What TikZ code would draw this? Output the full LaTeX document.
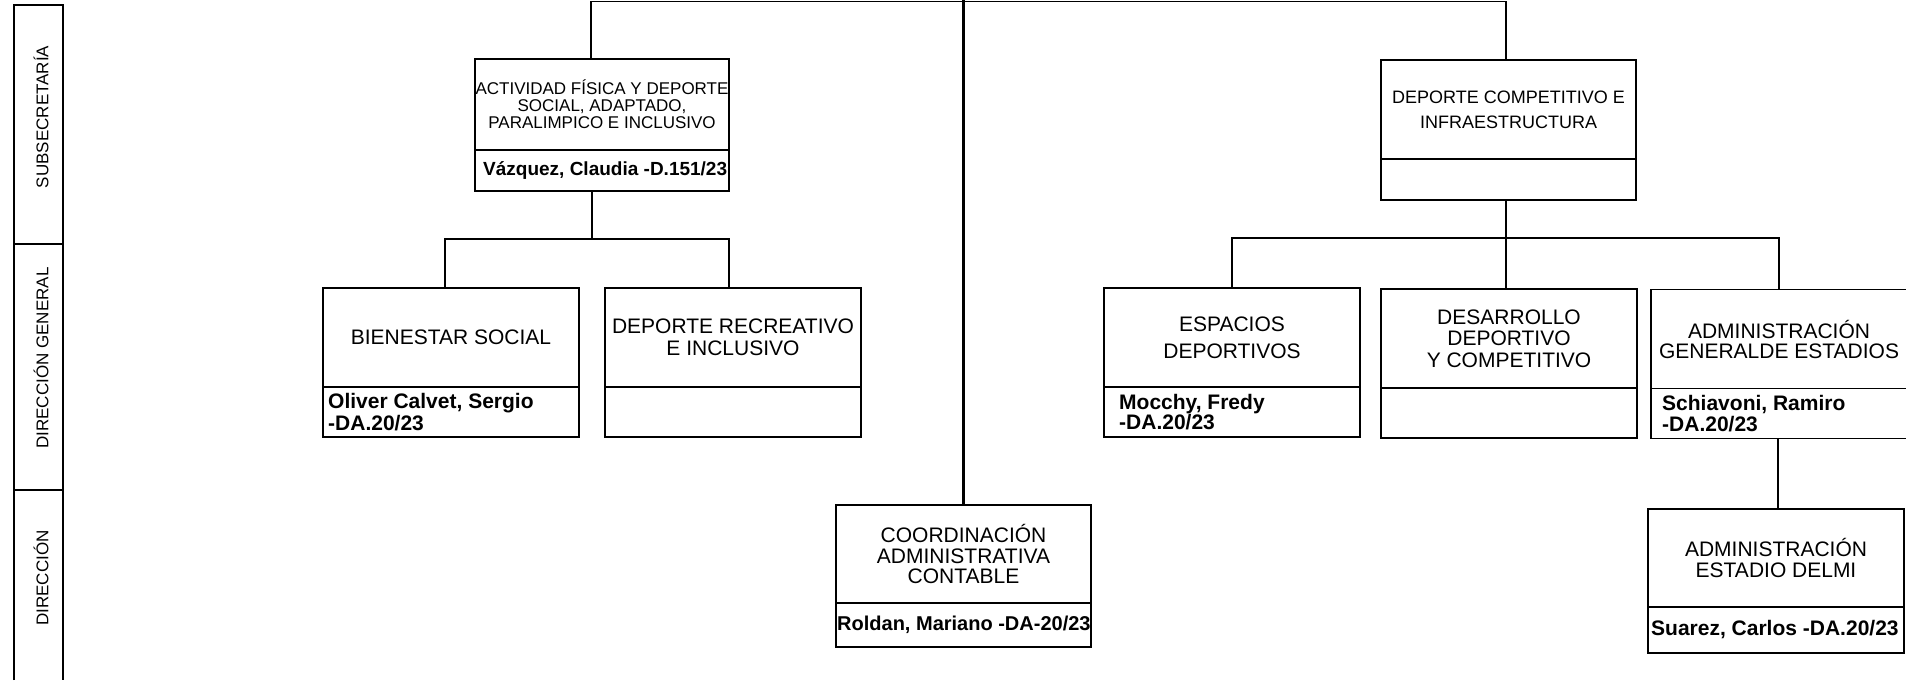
\documentclass[tikz,border=0pt]{standalone}
\usepackage{fontspec}
\setmainfont{Liberation Sans}
\usetikzlibrary{positioning}

\begin{document}
\begin{tikzpicture}[x=1pt, y=-1pt,
        unidad/.style={draw, line width=1.3pt, outer sep=0pt, inner sep=0pt,
                       minimum width=256pt, minimum height=99pt, align=center,
                       font=\fontsize{21}{21.5}\selectfont},
        titular/.style={draw, line width=1.3pt, outer sep=0pt, inner sep=0pt,
                        minimum width=256pt, minimum height=50pt},
        nombre/.style={anchor=west, inner sep=0pt, align=left,
                       font=\bfseries\fontsize{21}{21.5}\selectfont},
        nivel/.style={rotate=90, inner sep=0pt, font=\fontsize{17}{17}\selectfont},
        linea/.style={line width=1.3pt},
        eje/.style={line width=3pt}
    ]
    \useasboundingbox (0,0) rectangle (1906,680);

        % Columna de niveles
        \draw[linea] (14,680) -- (14,5) -- (63,5) -- (63,680);
        \draw[linea] (14,244) -- (63,244);
        \draw[linea] (14,490) -- (63,490);
        \node[nivel] (subsecretaria) at (41,117) {SUBSECRETARÍA};
        \node[nivel] (direcciongral) at (41,358) {DIRECCIÓN GENERAL};
        \node[nivel] (direccion) at (41,578) {DIRECCIÓN};

        % Subsecretarías
        \node[unidad, minimum width=254pt, minimum height=91pt, font=\fontsize{17}{17}\selectfont] (actividad) at (602,104.5) {ACTIVIDAD FÍSICA Y DEPORTE\\SOCIAL, ADAPTADO,\\PARALIMPICO E INCLUSIVO};
        \node[titular, minimum width=254pt, minimum height=41pt, below=0pt of actividad] (actividadp) {};
        \node[nombre, xshift=8pt, font=\bfseries\fontsize{19}{19}\selectfont] (actividadn) at (actividadp.west) {Vázquez, Claudia -D.151/23};

        \node[unidad, minimum width=255pt, font=\fontsize{18}{25}\selectfont] (competitivo) at (1508.5,109.5) {DEPORTE COMPETITIVO E\\INFRAESTRUCTURA};
        \node[titular, minimum width=255pt, minimum height=41pt, below=0pt of competitivo] (competitivop) {};

        % Direcciones generales
        \node[unidad] (bienestar) at (451,337.5) {BIENESTAR SOCIAL};
        \node[titular, below=0pt of bienestar] (bienestarp) {};
        \node[nombre, xshift=5pt] (bienestarn) at (bienestarp.west) {Oliver Calvet, Sergio\\-DA.20/23};

        \node[unidad, font=\fontsize{21}{22}\selectfont] (recreativo) at (733,337.5) {DEPORTE RECREATIVO\\E INCLUSIVO};
        \node[titular, below=0pt of recreativo] (recreativop) {};

        \node[unidad, font=\fontsize{21}{27}\selectfont] (espacios) at (1232,337.5) {ESPACIOS\\DEPORTIVOS};
        \node[titular, below=0pt of espacios] (espaciosp) {};
        \node[nombre, xshift=15pt, font=\bfseries\fontsize{21}{19}\selectfont] (espaciosn) at (espaciosp.west) {Mocchy, Fredy\\-DA.20/23};

        \node[unidad] (desarrollo) at (1509,338.5) {DESARROLLO\\DEPORTIVO\\Y COMPETITIVO};
        \node[titular, below=0pt of desarrollo] (desarrollop) {};

        \node[unidad, font=\fontsize{21}{20}\selectfont] (estadios) at (1779,339) {ADMINISTRACIÓN\\GENERALDE ESTADIOS};
        \node[titular, below=0pt of estadios] (estadiosp) {};
        \node[nombre, xshift=11pt] (estadiosn) at (estadiosp.west) {Schiavoni, Ramiro\\-DA.20/23};

        % Direcciones
        \node[unidad, minimum width=255pt, minimum height=98pt, font=\fontsize{21}{20.5}\selectfont] (coordinacion) at (963.5,554) {COORDINACIÓN\\ADMINISTRATIVA\\CONTABLE};
        \node[titular, minimum width=255pt, minimum height=44pt, below=0pt of coordinacion] (coordinacionp) {};
        \node[nombre, xshift=1pt, font=\bfseries\fontsize{20}{20}\selectfont] (coordinacionn) at (coordinacionp.west) {Roldan, Mariano -DA-20/23};

        \node[unidad, minimum height=98pt, font=\fontsize{21}{20.5}\selectfont] (delmi) at (1776,558) {ADMINISTRACIÓN\\ESTADIO DELMI};
        \node[titular, minimum height=46pt, below=0pt of delmi] (delmip) {};
        \node[nombre, xshift=3pt] (delmin) at (delmip.west) {Suarez, Carlos -DA.20/23};

        % Conectores
        \coordinate (techo) at (964,1.5);
        \coordinate (borde) at (964,0);
        \draw[linea] ([xshift=-11pt]actividad.north) |- (techo) -| ([xshift=-2.5pt]competitivo.north);
        \draw[eje] (coordinacion.north) -- (coordinacion.north |- borde);

        \draw[linea] ([xshift=-10pt]actividadp.south) -- ++(0,48) coordinate (nudo1);
        \draw[linea] ([xshift=-6pt]bienestar.north) |- (nudo1) -| ([xshift=-4pt]recreativo.north);

        \draw[linea] ([xshift=-2.5pt]competitivop.south) -- ++(0,38) coordinate (nudo2);
        \draw[linea] (espacios.north) |- (nudo2) -| (estadios.north);
        \draw[linea] (nudo2) -- (nudo2 |- desarrollo.north);

        \draw[linea] ([xshift=2pt]delmi.north) -- ([xshift=2pt]delmi.north |- estadiosp.south);

\end{tikzpicture}
\end{document}
